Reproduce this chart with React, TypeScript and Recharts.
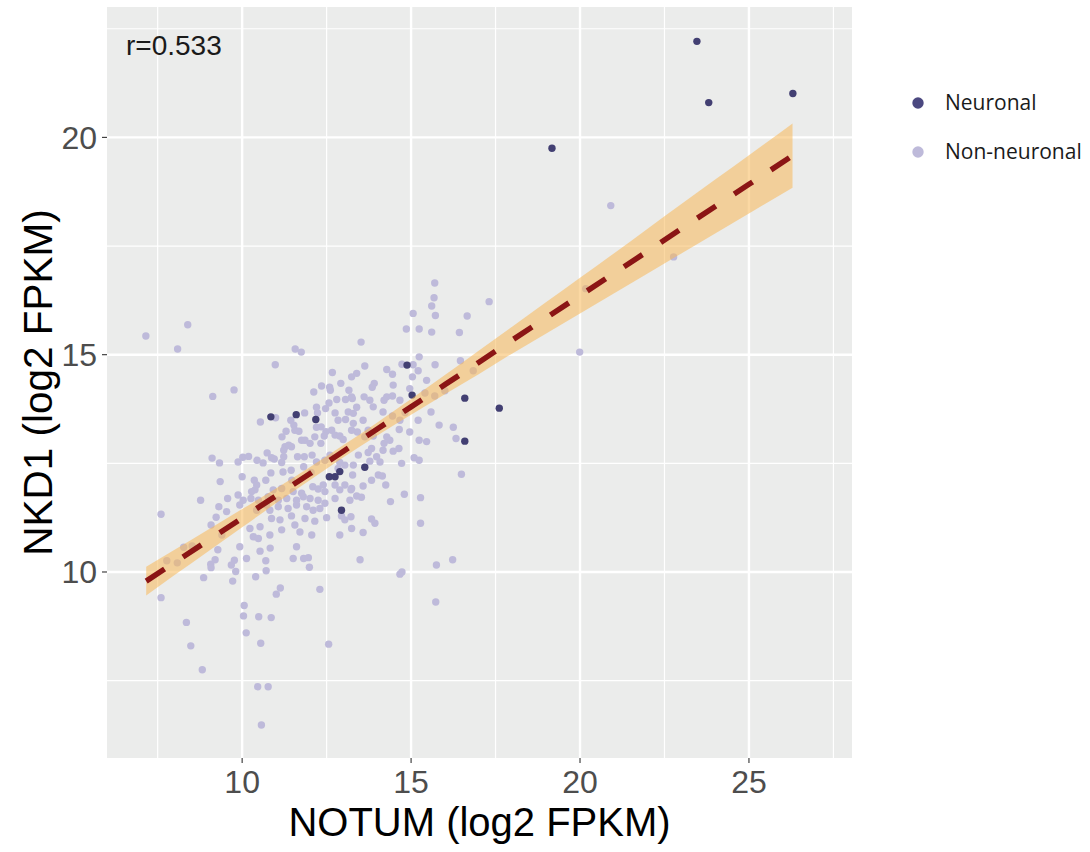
import React from 'react';
import { ComposedChart, XAxis, YAxis, CartesianGrid, ReferenceLine, Scatter, Area, Line } from 'recharts';

// Axis setup (data units)
const xTicks = [10, 15, 20, 25];
const yTicks = [10, 15, 20];
const xMinor = [7.5, 12.5, 17.5, 22.5, 27.5];
const yMinor = [7.5, 12.5, 17.5, 22.5];
const xDomain: [number, number] = [6.0, 28.05];
const yDomain: [number, number] = [5.72, 23.0];

const xTitle = 'NOTUM (log2 FPKM)';
const yTitle = 'NKD1 (log2 FPKM)';
const corrLabel = 'r=0.533';

// [NOTUM, NKD1]
const neuronalPoints: [number, number][] = [
  [23.46, 22.21], [23.81, 20.80], [26.30, 21.01], [19.17, 19.75], [14.88, 14.76], [15.03, 14.07],
  [16.59, 14.00], [16.59, 13.01], [17.61, 13.77], [11.60, 13.62], [10.85, 13.57], [12.18, 13.51],
  [12.58, 12.19], [12.75, 12.19], [12.89, 12.31], [12.94, 11.42], [13.63, 12.41],
];

const nonNeuronalPoints: [number, number][] = [
  [7.15, 15.43], [8.39, 15.69], [8.09, 15.13], [11.57, 15.13], [11.75, 15.06], [10.98, 14.77], [9.76, 14.19], [9.13, 14.04],
  [15.70, 16.65], [15.68, 16.31], [15.61, 16.12], [15.72, 15.90], [15.06, 15.95], [16.66, 15.89], [17.31, 16.22], [14.86, 15.59],
  [15.24, 15.59], [15.61, 15.52], [16.43, 15.51], [20.91, 18.43], [20.17, 16.52], [22.77, 17.25],
  [13.52, 15.29], [19.99, 15.06], [16.46, 14.86], [15.24, 14.95], [14.73, 14.78], [15.71, 14.77], [15.06, 14.77], [15.21, 14.63],
  [13.63, 14.74], [14.28, 14.66], [14.45, 14.55], [13.39, 14.57], [13.24, 14.49], [15.04, 14.49], [15.46, 14.41], [13.91, 14.34],
  [13.85, 14.25], [14.47, 14.30], [14.96, 14.22], [14.28, 14.03], [14.20, 13.95], [14.45, 14.05], [14.67, 13.95], [13.61, 14.03],
  [13.78, 13.95], [13.88, 13.80], [13.24, 14.03], [13.39, 13.79], [15.41, 14.12], [15.70, 14.05], [16.00, 14.17], [16.84, 14.63],
  [15.59, 13.68], [14.82, 13.67], [15.21, 13.49], [14.67, 13.49], [14.45, 13.59], [14.17, 13.68], [15.83, 13.38], [16.25, 13.33],
  [16.33, 13.07], [15.24, 13.03], [15.46, 13.00], [14.96, 13.22], [14.65, 13.28], [14.28, 13.11], [14.37, 13.03], [14.20, 12.96],
  [13.73, 13.26], [13.63, 13.11], [13.88, 13.13], [13.29, 13.42], [13.58, 13.49], [13.41, 13.22],
  [12.67, 14.59], [12.12, 14.14], [12.35, 14.28], [12.59, 14.25], [12.61, 14.18], [12.92, 14.34], [13.16, 14.18], [12.80, 13.97],
  [12.57, 13.89], [12.47, 13.76], [12.20, 13.79], [12.23, 13.66], [11.85, 13.66], [10.99, 13.55], [10.54, 13.45], [11.44, 13.49],
  [11.53, 13.38], [11.30, 13.24], [11.56, 13.26], [11.68, 13.24], [11.18, 13.11], [11.76, 13.03], [12.20, 13.33], [12.34, 13.34],
  [12.48, 13.23], [12.65, 13.26], [12.75, 13.66], [12.84, 13.49], [13.06, 13.51], [13.14, 13.68], [13.29, 13.65], [13.06, 13.97],
  [13.26, 13.99], [12.75, 13.15], [12.89, 13.13], [12.99, 13.05], [13.24, 13.26], [12.15, 13.11], [12.43, 13.13], [12.33, 12.96],
  [11.86, 13.03], [12.01, 12.96], [11.27, 12.88], [11.46, 12.88],
  [9.11, 12.62], [9.33, 12.51], [9.35, 12.08], [8.77, 11.65], [7.60, 11.33], [9.31, 11.50], [9.23, 11.26], [9.08, 11.08],
  [9.40, 10.85], [8.27, 10.57], [8.52, 10.60], [7.77, 10.26], [8.08, 10.21], [9.28, 10.51], [9.20, 10.28], [9.07, 10.18],
  [9.88, 12.53], [10.02, 12.64], [10.19, 12.66], [10.44, 12.57], [10.62, 12.51], [10.74, 12.74], [10.87, 12.63], [11.17, 12.52],
  [11.23, 12.65], [11.64, 12.65], [11.84, 12.65], [11.82, 12.42], [11.45, 12.34], [11.21, 12.30], [10.85, 12.28], [10.00, 12.19],
  [10.70, 12.11], [11.38, 12.92], [11.23, 12.80],
  [9.57, 11.69], [9.88, 11.77], [9.93, 11.54], [10.95, 12.60], [12.07, 12.69], [12.20, 12.53], [12.45, 12.57], [12.60, 12.69],
  [12.89, 12.52], [12.84, 12.38], [13.04, 12.46], [12.04, 12.29],
  [10.36, 12.11], [10.43, 12.00], [10.38, 11.89], [10.28, 11.85], [10.92, 11.89], [11.17, 11.92], [11.51, 11.85], [11.76, 11.81],
  [12.09, 11.96], [12.25, 11.91], [12.40, 12.00], [12.45, 11.85], [12.75, 12.00], [13.04, 12.00], [13.22, 11.89], [12.89, 11.89],
  [10.03, 11.65], [10.26, 11.69], [10.48, 11.65], [10.72, 11.54], [10.77, 11.73], [11.07, 11.65], [11.32, 11.69], [11.61, 11.65],
  [11.81, 11.73], [12.01, 11.69], [12.25, 11.65], [12.45, 11.58], [12.75, 11.69], [13.19, 11.65],
  [10.43, 11.42], [10.82, 11.42], [11.07, 11.50], [11.36, 11.46], [11.61, 11.54], [11.91, 11.50], [12.10, 11.42], [12.30, 11.46],
  [10.87, 11.23], [11.12, 11.20], [11.46, 11.29], [11.86, 11.23], [12.15, 11.17], [12.50, 11.25],
  [10.23, 11.00], [10.53, 11.04], [10.33, 10.81], [10.48, 10.77], [10.82, 10.85], [11.17, 10.97], [11.56, 11.08], [11.71, 10.92],
  [12.06, 10.85], [12.89, 10.85], [13.04, 11.20], [13.22, 11.27],
  [9.93, 10.58], [10.53, 10.48], [11.61, 10.58], [11.51, 10.31], [10.70, 10.26], [10.13, 10.31], [11.96, 10.33],
  [9.54, 11.39], [9.77, 10.27], [9.68, 10.16], [10.83, 10.55], [11.82, 10.31], [11.47, 12.11],
  [13.83, 12.84], [14.17, 12.80], [14.47, 12.78], [14.64, 12.84], [13.73, 12.75], [13.98, 12.65], [14.08, 12.53], [13.78, 12.55],
  [13.29, 12.46], [13.27, 12.23], [13.44, 12.69], [14.72, 12.50], [15.09, 12.63], [15.24, 12.57], [16.49, 12.25], [13.83, 12.11],
  [14.03, 12.23], [14.15, 12.21], [14.25, 12.00], [13.58, 11.98], [13.24, 11.92], [13.39, 11.75], [13.53, 11.72], [14.80, 11.79],
  [15.28, 11.71], [14.39, 11.62], [13.83, 11.22], [13.93, 11.12], [13.24, 11.00], [13.58, 10.91], [15.28, 11.12], [13.49, 10.28],
  [16.23, 10.28], [15.75, 10.16], [12.94, 11.29],
  [9.08, 10.10], [8.86, 9.87], [7.60, 9.41], [9.81, 10.01], [9.72, 9.79], [10.40, 9.89], [10.71, 10.03], [11.13, 9.63],
  [11.01, 9.49], [10.06, 9.23], [10.04, 8.99], [10.49, 8.97], [10.86, 8.95], [8.35, 8.84], [10.12, 8.60], [10.55, 8.36],
  [8.48, 8.30], [8.82, 7.75], [10.46, 7.36], [10.77, 7.36], [10.57, 6.48], [11.99, 10.11], [14.67, 9.95], [14.73, 10.00],
  [12.30, 9.60], [15.73, 9.31], [12.56, 8.34],
];

// Linear fit and its confidence band
const fitX = [7.16, 8, 9, 10, 11, 12, 13, 14, 15, 16, 17, 18, 19, 20, 21, 22, 23, 24, 25, 26.29];
const fitY = [9.79, 10.22, 10.73, 11.24, 11.75, 12.26, 12.78, 13.29, 13.80, 14.31, 14.82, 15.34, 15.85, 16.36, 16.87, 17.38, 17.90, 18.41, 18.92, 19.58];
const bandLow = [9.46, 9.93, 10.48, 11.03, 11.58, 12.11, 12.64, 13.14, 13.62, 14.09, 14.55, 15.03, 15.49, 15.95, 16.41, 16.87, 17.33, 17.79, 18.25, 18.84];
const bandHigh = [10.12, 10.51, 10.98, 11.45, 11.92, 12.41, 12.92, 13.44, 13.98, 14.53, 15.09, 15.65, 16.21, 16.77, 17.33, 17.90, 18.47, 19.03, 19.59, 20.32];

const legendLabels = ['Neuronal', 'Non-neuronal'];
const NEURONAL = '#423F72';
const NON_NEURONAL = '#BEBADA';
const legendColors = ['#4B4880', NON_NEURONAL];

const bandRows = fitX.map((x, i) => ({ x, band: [bandLow[i], bandHigh[i]], fit: fitY[i] }));
const neuronalData = neuronalPoints.map(([x, y]) => ({ x, y }));
const nonNeuronalData = nonNeuronalPoints.map(([x, y]) => ({ x, y }));

const AX_FONT = "'Liberation Sans', Arial, sans-serif";

const dot = (color: string) => (props: any) => {
  if (props.cx == null || props.cy == null) return <g />;
  return <circle cx={props.cx} cy={props.cy} r={3.7} fill={color} stroke="none" />;
};

export default function App() {
  return (
    <div style={{ position: 'absolute', left: 0, top: 0, width: 1090, height: 852, background: '#ffffff' }}>
      <ComposedChart width={1090} height={852} data={bandRows} margin={{ top: 7, right: 238, bottom: 0, left: 0 }}>
        <CartesianGrid fill="#EBECEB" horizontal={false} vertical={false} stroke="none" />
        {xMinor.map((v) => (
          <ReferenceLine key={'xm' + v} x={v} stroke="#ffffff" strokeWidth={1.2} zIndex={-50} ifOverflow="hidden" />
        ))}
        {yMinor.map((v) => (
          <ReferenceLine key={'ym' + v} y={v} stroke="#ffffff" strokeWidth={1.2} zIndex={-50} ifOverflow="hidden" />
        ))}
        {xTicks.map((v) => (
          <ReferenceLine key={'xM' + v} x={v} stroke="#ffffff" strokeWidth={2.4} zIndex={-40} />
        ))}
        {yTicks.map((v) => (
          <ReferenceLine key={'yM' + v} y={v} stroke="#ffffff" strokeWidth={2.4} zIndex={-40} />
        ))}
        <XAxis
          type="number"
          dataKey="x"
          domain={xDomain}
          allowDataOverflow
          ticks={xTicks}
          interval={0}
          axisLine={false}
          tickLine={{ stroke: '#333333', strokeWidth: 1.1 }}
          tickSize={5}
          tickMargin={7}
          tick={{ fill: '#4D4D4D', fontSize: 32, fontFamily: AX_FONT }}
          height={94}
          label={{ value: xTitle, position: 'insideBottom', offset: 16, style: { fill: '#000000', fontSize: 40, fontFamily: AX_FONT } }}
        />
        <YAxis
          type="number"
          domain={yDomain}
          allowDataOverflow
          ticks={yTicks}
          interval={0}
          axisLine={false}
          tickLine={{ stroke: '#333333', strokeWidth: 1.1 }}
          tickSize={5}
          tickMargin={5}
          tick={{ fill: '#4D4D4D', fontSize: 32, fontFamily: AX_FONT }}
          width={107}
          label={{ value: yTitle, angle: -90, position: 'insideLeft', offset: 38, style: { textAnchor: 'middle', fill: '#000000', fontSize: 40.5, fontFamily: AX_FONT } }}
        />
        <Scatter name="Non-neuronal" data={nonNeuronalData} dataKey="y" shape={dot(NON_NEURONAL)} isAnimationActive={false} zIndex={10} />
        <Scatter name="Neuronal" data={neuronalData} dataKey="y" shape={dot(NEURONAL)} isAnimationActive={false} zIndex={11} />
        <Area dataKey="band" type="monotone" fill="#F8B858" fillOpacity={0.55} stroke="none" isAnimationActive={false} zIndex={20} activeDot={false} />
        <Line dataKey="fit" type="linear" stroke="#8B1515" strokeWidth={5.5} strokeDasharray="22 22" dot={false} activeDot={false} isAnimationActive={false} zIndex={30} />
      </ComposedChart>
      <svg width={1090} height={852} style={{ position: 'absolute', left: 0, top: 0, pointerEvents: 'none' }}>
        <text x={126} y={55} fontSize={28} fill="#1A1A1A" fontFamily={AX_FONT}>{corrLabel}</text>
        {legendLabels.map((lab, i) => (
          <g key={lab}>
            <circle cx={918} cy={103 + i * 49} r={5.7} fill={legendColors[i]} />
            <text x={945} y={110 + i * 49} fontSize={21} fill="#1A1A1A" fontFamily="'Open Sans', 'Noto Sans', sans-serif">{lab}</text>
          </g>
        ))}
      </svg>
    </div>
  );
}
